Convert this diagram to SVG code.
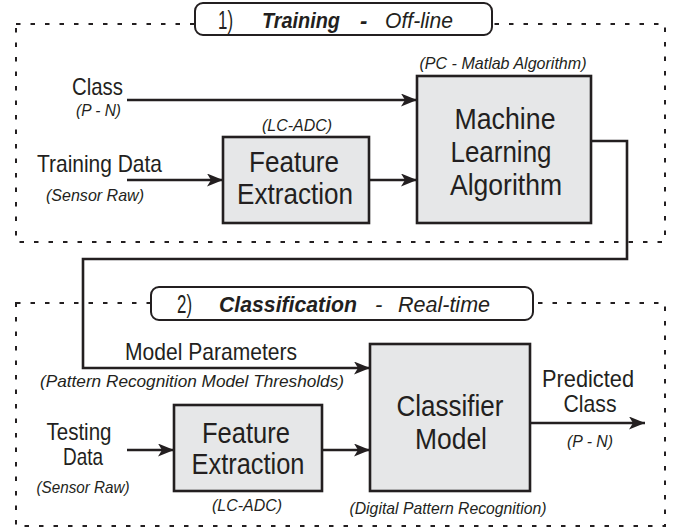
<svg xmlns="http://www.w3.org/2000/svg" width="686" height="530" viewBox="0 0 686 530">
<defs>
<marker id="arr" markerUnits="userSpaceOnUse" markerWidth="17" markerHeight="14" refX="16" refY="6.5" orient="auto">
<path d="M0,0 L16,6.5 L0,13 L4,6.5 z" fill="#231f20"/>
</marker>
<style>
.t{font-family:"Liberation Sans Narrow","Liberation Sans",Arial,sans-serif;fill:#231f20}
.big{font-size:30px}
.med{font-size:24px}
.sm{font-size:17px;font-style:italic}
.num{font-size:25px}
.ttl{font-size:22px;font-style:italic}
.b{font-weight:bold}
.frame{fill:none;stroke:#231f20;stroke-width:2;stroke-dasharray:4.5 10}
.box{fill:#e6e7e8;stroke:#231f20;stroke-width:2.6}
.lbl{fill:#fff;stroke:#231f20;stroke-width:2}
.con{fill:none;stroke:#231f20;stroke-width:2.6}
</style>
</defs>
<rect x="0" y="0" width="686" height="530" fill="#fff"/>

<g id="frame-training">
<rect class="frame" x="16" y="24" width="649" height="218"/>
</g>
<g id="frame-classification">
<rect class="frame" x="16" y="303" width="649" height="223"/>
</g>

<g id="connectors">
<line class="con" x1="127" y1="100" x2="417" y2="100" marker-end="url(#arr)"/>
<line class="con" x1="127" y1="180" x2="223" y2="180" marker-end="url(#arr)"/>
<line class="con" x1="369" y1="180" x2="417" y2="180" marker-end="url(#arr)"/>
<path class="con" d="M591,141 H627 V259 H83 V368 H370" marker-end="url(#arr)"/>
<line class="con" x1="127" y1="450" x2="174" y2="450" marker-end="url(#arr)"/>
<line class="con" x1="322" y1="450" x2="370" y2="450" marker-end="url(#arr)"/>
<line class="con" x1="530" y1="423" x2="645" y2="423" marker-end="url(#arr)"/>
</g>

<g id="label-training">
<rect class="lbl" x="195" y="3" width="297" height="32" rx="8"/>
<text class="t num" x="218" y="29" textLength="15" lengthAdjust="spacingAndGlyphs">1)</text>
<text class="t ttl b" x="262" y="28" textLength="78" lengthAdjust="spacingAndGlyphs">Training</text>
<text class="t ttl b" x="360" y="28">-</text>
<text class="t ttl" x="385" y="28" textLength="68" lengthAdjust="spacingAndGlyphs">Off-line</text>
</g>

<g id="label-classification">
<rect class="lbl" x="151" y="287" width="382" height="33" rx="8"/>
<text class="t num" x="177" y="313" textLength="15" lengthAdjust="spacingAndGlyphs">2)</text>
<text class="t ttl b" x="219" y="312" textLength="138" lengthAdjust="spacingAndGlyphs">Classification</text>
<text class="t ttl" x="375" y="312">-</text>
<text class="t ttl" x="398" y="312" textLength="92" lengthAdjust="spacingAndGlyphs">Real-time</text>
</g>

<g id="input-class">
<text class="t med" x="72" y="95" textLength="51" lengthAdjust="spacingAndGlyphs">Class</text>
<text class="t sm" x="76" y="116" textLength="45" lengthAdjust="spacingAndGlyphs">(P - N)</text>
</g>

<g id="input-training-data">
<text class="t med" x="37" y="172" textLength="125" lengthAdjust="spacingAndGlyphs">Training Data</text>
<text class="t sm" x="46" y="201" textLength="98" lengthAdjust="spacingAndGlyphs">(Sensor Raw)</text>
</g>

<g id="feature-extraction-1">
<text class="t sm" x="297" y="131" text-anchor="middle" textLength="70" lengthAdjust="spacingAndGlyphs">(LC-ADC)</text>
<rect class="box" x="223" y="137" width="146" height="86"/>
<text class="t big" x="294" y="172" text-anchor="middle" textLength="90" lengthAdjust="spacingAndGlyphs">Feature</text>
<text class="t big" x="295" y="204" text-anchor="middle" textLength="116" lengthAdjust="spacingAndGlyphs">Extraction</text>
</g>

<g id="machine-learning">
<text class="t sm" x="503" y="69" text-anchor="middle" textLength="167" lengthAdjust="spacingAndGlyphs">(PC -  Matlab Algorithm)</text>
<rect class="box" x="417" y="76" width="174" height="147"/>
<text class="t big" x="505" y="129" text-anchor="middle" textLength="101" lengthAdjust="spacingAndGlyphs">Machine</text>
<text class="t big" x="501" y="162" text-anchor="middle" textLength="101" lengthAdjust="spacingAndGlyphs">Learning</text>
<text class="t big" x="506" y="195" text-anchor="middle" textLength="112" lengthAdjust="spacingAndGlyphs">Algorithm</text>
</g>

<g id="model-parameters">
<text class="t med" x="125" y="360" textLength="172" lengthAdjust="spacingAndGlyphs">Model Parameters</text>
<text class="t sm" x="40" y="387" textLength="304" lengthAdjust="spacingAndGlyphs">(Pattern Recognition Model Thresholds)</text>
</g>

<g id="input-testing-data">
<text class="t med" x="79" y="440" text-anchor="middle" textLength="65" lengthAdjust="spacingAndGlyphs">Testing</text>
<text class="t med" x="83" y="465" text-anchor="middle" textLength="40" lengthAdjust="spacingAndGlyphs">Data</text>
<text class="t sm" x="83" y="493" text-anchor="middle" textLength="93" lengthAdjust="spacingAndGlyphs">(Sensor Raw)</text>
</g>

<g id="feature-extraction-2">
<rect class="box" x="174" y="405" width="148" height="86"/>
<text class="t big" x="246" y="443" text-anchor="middle" textLength="88" lengthAdjust="spacingAndGlyphs">Feature</text>
<text class="t big" x="248" y="474" text-anchor="middle" textLength="113" lengthAdjust="spacingAndGlyphs">Extraction</text>
<text class="t sm" x="247" y="511" text-anchor="middle" textLength="70" lengthAdjust="spacingAndGlyphs">(LC-ADC)</text>
</g>

<g id="classifier-model">
<rect class="box" x="370" y="344" width="160" height="147"/>
<text class="t big" x="450" y="416" text-anchor="middle" textLength="107" lengthAdjust="spacingAndGlyphs">Classifier</text>
<text class="t big" x="451" y="449" text-anchor="middle" textLength="72" lengthAdjust="spacingAndGlyphs">Model</text>
<text class="t sm" x="448" y="514" text-anchor="middle" textLength="197" lengthAdjust="spacingAndGlyphs">(Digital Pattern Recognition)</text>
</g>

<g id="output-class">
<text class="t med" x="588" y="387" text-anchor="middle" textLength="92" lengthAdjust="spacingAndGlyphs">Predicted</text>
<text class="t med" x="590" y="412" text-anchor="middle" textLength="53" lengthAdjust="spacingAndGlyphs">Class</text>
<text class="t sm" x="590" y="447" text-anchor="middle" textLength="46" lengthAdjust="spacingAndGlyphs">(P - N)</text>
</g>
</svg>
